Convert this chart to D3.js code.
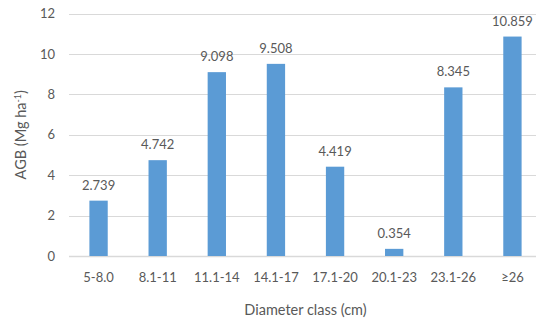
<!DOCTYPE html>
<html>
<head>
<meta charset="utf-8">
<script src="https://cdn.jsdelivr.net/npm/d3@7/dist/d3.min.js"></script>
<style>
  html, body { margin: 0; padding: 0; background: #fff; }
  svg text { font-family: Lato, "Open Sans", sans-serif; fill: #595959; }
</style>
</head>
<body>
<svg id="chart" width="536" height="320"></svg>
<script>
// Above-ground biomass by diameter class
const categories = ["5-8.0", "8.1-11", "11.1-14", "14.1-17", "17.1-20", "20.1-23", "23.1-26", "≥26"];
const agbValues = [2.739, 4.742, 9.098, 9.508, 4.419, 0.354, 8.345, 10.859];
const yTicks = [0, 2, 4, 6, 8, 10, 12];

const svg = d3.select("#chart");
const plotLeft = 69, plotRight = 542, plotTop = 13.5, plotBottom = 256;
const labelFont = "Lato, 'Open Sans', sans-serif";

const x = d3.scaleBand().domain(categories).range([plotLeft, plotRight]).paddingInner(0.69).paddingOuter(0.345);
const y = d3.scaleLinear().domain([0, 12]).range([plotBottom, plotTop]);

// horizontal gridlines
svg.append("g")
  .selectAll("line")
  .data(yTicks)
  .join("line")
  .attr("x1", plotLeft).attr("x2", 536)
  .attr("y1", d => Math.round(y(d)) + 0.5).attr("y2", d => Math.round(y(d)) + 0.5)
  .attr("stroke", "#d9d9d9")
  .attr("stroke-width", d => d === 0 ? 1.5 : 1);

// y axis tick labels
const yAxis = d3.axisLeft(y).tickValues(yTicks).tickSize(0).tickPadding(0);
const gy = svg.append("g").attr("transform", `translate(${plotLeft - 14},0)`).call(yAxis);
gy.select(".domain").remove();
gy.selectAll("text").attr("font-size", 13).style("font-family", labelFont).attr("fill", "#595959");

// bars
svg.append("g")
  .selectAll("rect")
  .data(agbValues)
  .join("rect")
  .attr("x", (d, i) => x(categories[i]))
  .attr("y", d => y(d))
  .attr("width", x.bandwidth())
  .attr("height", d => y(0) - y(d))
  .attr("fill", "#5b9bd5");

// value labels
svg.append("g")
  .selectAll("text")
  .data(agbValues)
  .join("text")
  .attr("x", (d, i) => x(categories[i]) + x.bandwidth() / 2)
  .attr("y", d => y(d) - 11)
  .attr("text-anchor", "middle")
  .attr("font-size", 13)
  .text(d => d.toFixed(3));

// x axis labels
const xAxis = d3.axisBottom(x).tickSize(0).tickPadding(0);
const gx = svg.append("g").attr("transform", `translate(0,${plotBottom + 17})`).call(xAxis);
gx.select(".domain").remove();
gx.selectAll("text").attr("font-size", 13).style("font-family", labelFont).attr("fill", "#595959");

// axis titles
svg.append("text")
  .attr("x", (plotLeft + plotRight) / 2)
  .attr("y", 315)
  .attr("text-anchor", "middle")
  .attr("font-size", 14.5)
  .text("Diameter class (cm)");

const yt = svg.append("text")
  .attr("transform", `translate(26,${(plotTop + plotBottom) / 2}) rotate(-90)`)
  .attr("text-anchor", "middle")
  .attr("font-size", 14.5);
yt.append("tspan").text("AGB (Mg ha");
yt.append("tspan").attr("font-size", 9).attr("dy", -5).text("-1");
yt.append("tspan").attr("dy", 5).text(")");
</script>
</body>
</html>
